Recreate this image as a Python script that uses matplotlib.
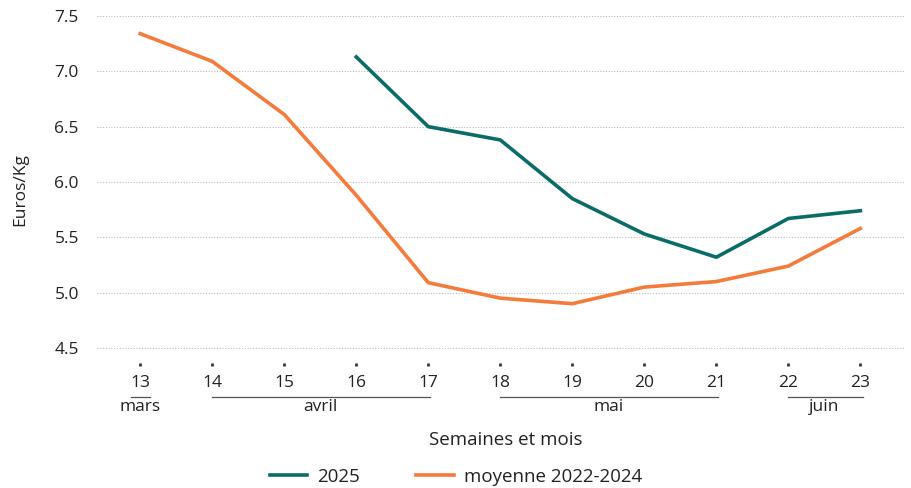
import matplotlib
matplotlib.use("Agg")
import matplotlib.pyplot as plt
import matplotlib.transforms as mtransforms

plt.rcParams['font.family'] = ['Open Sans', 'DejaVu Sans']

weeks = [13, 14, 15, 16, 17, 18, 19, 20, 21, 22, 23]
avg_2022_2024 = [7.34, 7.09, 6.61, 5.88, 5.09, 4.95, 4.90, 5.05, 5.10, 5.24, 5.58]
weeks_2025 = [16, 17, 18, 19, 20, 21, 22, 23]
prix_2025 = [7.13, 6.50, 6.38, 5.85, 5.53, 5.32, 5.67, 5.74]

# month groups: (label, first week, last week)
months = [("mars", 13, 13), ("avril", 14, 17), ("mai", 18, 21), ("juin", 22, 23)]
yticks = [4.5, 5.0, 5.5, 6.0, 6.5, 7.0, 7.5]

teal = "#0a6c69"
orange = "#f47b3b"
txt = "#222222"

fig = plt.figure(figsize=(9.11, 4.88), dpi=100)
ax = fig.add_axes([97 / 911, 1 - 363 / 488, 808 / 911, 347 / 488])

ax.plot(weeks_2025, prix_2025, color=teal, lw=2.6, label="2025")
ax.plot(weeks, avg_2022_2024, color=orange, lw=2.6, label="moyenne 2022-2024")

ax.set_xlim(12.4, 23.62)
ax.set_ylim(4.364, 7.5)
ax.set_yticks(yticks)
ax.set_yticklabels([f"{v:.1f}" for v in yticks])
ax.set_xticks(weeks)
ax.set_xticklabels([str(w) for w in weeks])
ax.grid(axis="y", color="#bbbbbb", linestyle=(0, (1, 1.5)), lw=0.8)
for s in ax.spines.values():
    s.set_visible(False)
ax.tick_params(axis="y", length=0, pad=13, labelsize=12.5, labelcolor=txt)
ax.tick_params(axis="x", length=2.5, width=2, color="#333333", pad=6,
               labelsize=12.5, labelcolor=txt)
ax.set_ylabel("Euros/Kg", fontsize=12.5, color=txt, labelpad=19)

# month brackets under week numbers
trans = mtransforms.blended_transform_factory(ax.transData, ax.transAxes)
for name, a, b in months:
    x0, x1 = (a - 0.13, b + 0.13) if a == b else (a, b + 0.03)
    ax.plot([x0, x1], [-0.098, -0.098], color="#555555", lw=0.9,
            transform=trans, clip_on=False)
    ax.text((a + b) / 2, -0.103, name, transform=trans, ha="center", va="top",
            fontsize=12.5, color=txt)

fig.text(506 / 911, 1 - 440 / 488, "Semaines et mois", ha="center", va="center",
         fontsize=13.5, color=txt)

fig.legend(loc="center", bbox_to_anchor=(456 / 911, 1 - 477 / 488), ncol=2,
           frameon=False, fontsize=13.5, handlelength=2.0, handletextpad=0.55,
           columnspacing=3.0, labelcolor=txt)

fig.savefig("out.png", dpi=100)
